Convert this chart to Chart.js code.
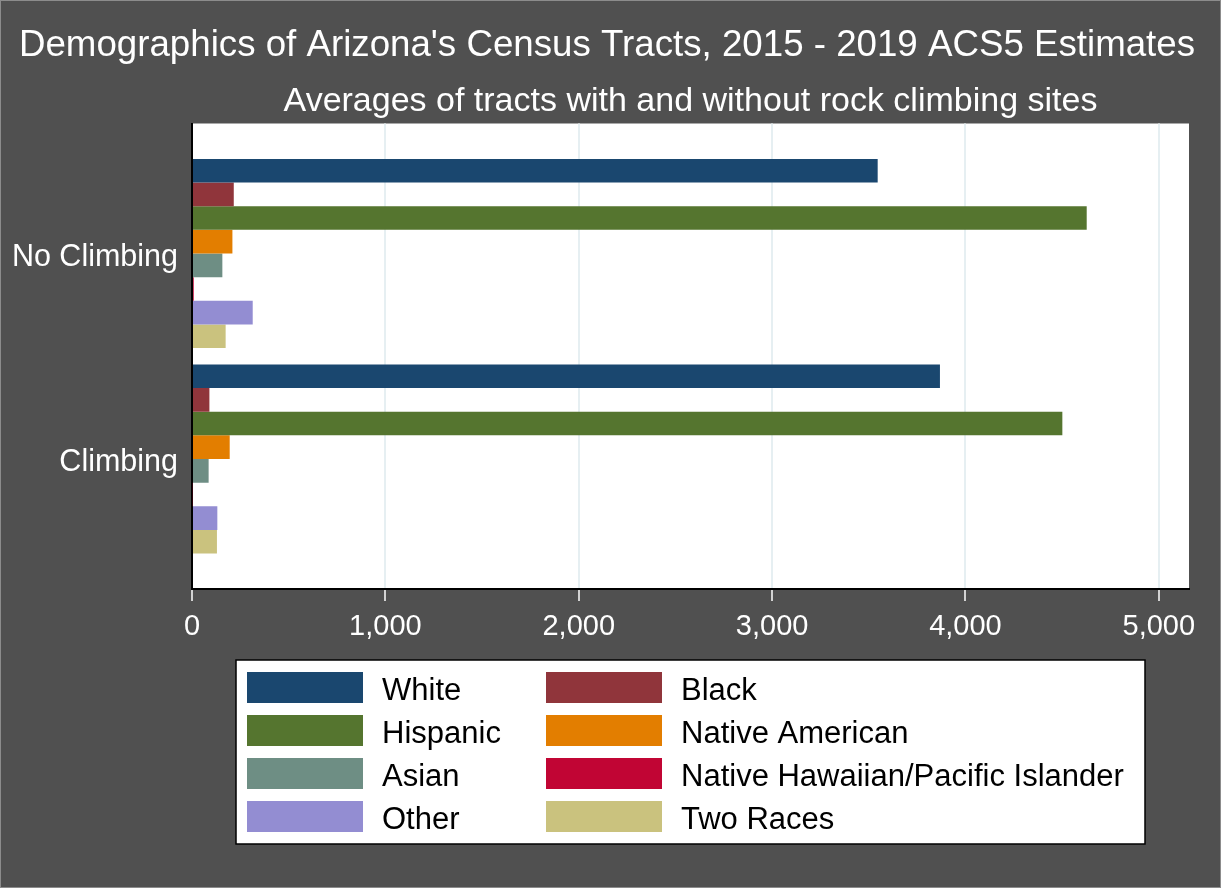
<!DOCTYPE html>
<html><head><meta charset="utf-8">
<script src="https://cdn.jsdelivr.net/npm/chart.js@4.4.1/dist/chart.umd.min.js"></script>
<style>html,body{margin:0;padding:0;background:#505050;overflow:hidden}canvas{display:block}</style>
</head><body>
<canvas id="c" width="1221" height="888"></canvas>
<script>
// ---- data ----
const groups = ['No Climbing', 'Climbing'];
const seriesNames = ['White', 'Black', 'Hispanic', 'Native American', 'Asian', 'Native Hawaiian/Pacific Islander', 'Other', 'Two Races'];
const white = [3546, 3868];
const black = [216, 90];
const hispanic = [4627, 4501];
const nativeAmerican = [209, 195];
const asian = [157, 86];
const nhpi = [9, 4];
const other = [314, 131];
const twoRaces = [174, 129];
const xTicks = [0, 1000, 2000, 3000, 4000, 5000];
const xMax = 5156;
const titleText = "Demographics of Arizona's Census Tracts, 2015 - 2019 ACS5 Estimates";
const subtitleText = "Averages of tracts with and without rock climbing sites";

// ---- styles ----
const colors = ['#1a476f', '#90353b', '#55752f', '#e37e00', '#6e8e84', '#c10534', '#938dd2', '#cac27e'];
const FAM = '"Liberation Sans", Arial, sans-serif';
const seriesValues = [white, black, hispanic, nativeAmerican, asian, nhpi, other, twoRaces];

const datasets = seriesNames.map((name, i) => ({
  label: name,
  data: seriesValues[i].map((v, j) => ({ x: v, y: j })),
  backgroundColor: colors[i],
  borderWidth: 0,
  categoryPercentage: 0.92,
  barPercentage: 1.0
}));

const deco = {
  id: 'deco',
  beforeDraw(chart) {
    const { ctx, chartArea: a, width: W, height: H } = chart;
    ctx.save();
    ctx.fillStyle = '#505050';
    ctx.fillRect(0, 0, W, H);
    ctx.strokeStyle = '#8c8c8c';
    ctx.lineWidth = 1;
    ctx.strokeRect(0.5, 0.5, W - 1, H - 1);
    ctx.fillStyle = '#ffffff';
    ctx.fillRect(a.left, a.top, a.right - a.left, a.bottom - a.top);
    ctx.fillStyle = '#ffffff';
    ctx.textAlign = 'center';
    ctx.textBaseline = 'alphabetic';
    ctx.font = '36.7px ' + FAM;
    ctx.fillText(titleText, 607, 56);
    ctx.font = '34px ' + FAM;
    ctx.fillText(subtitleText, (a.left + a.right) / 2, 111);
    ctx.restore();
  },
  afterDraw(chart) {
    const { ctx, chartArea: a } = chart;
    const cx = (a.left + a.right) / 2;
    const bw = 909, bt = 660, bh = 184;
    const bl = cx - bw / 2;
    ctx.save();
    ctx.fillStyle = '#ffffff';
    ctx.fillRect(bl, bt, bw, bh);
    ctx.strokeStyle = '#000000';
    ctx.lineWidth = 1.5;
    ctx.strokeRect(bl, bt, bw, bh);
    ctx.font = '31px ' + FAM;
    ctx.textAlign = 'left';
    ctx.textBaseline = 'alphabetic';
    chart.data.datasets.forEach((ds, i) => {
      const col = i % 2, row = Math.floor(i / 2);
      const sx = bl + (col === 0 ? 11 : 310);
      const tx = bl + (col === 0 ? 146 : 445);
      const sy = 672 + row * 43;
      ctx.fillStyle = ds.backgroundColor;
      ctx.fillRect(sx, sy, 116, 31);
      ctx.fillStyle = '#000000';
      ctx.fillText(ds.label, tx, sy + 27.5);
    });
    ctx.restore();
  }
};

new Chart(document.getElementById('c'), {
  type: 'bar',
  data: { datasets },
  options: {
    responsive: false,
    animation: false,
    indexAxis: 'y',
    devicePixelRatio: 1,
    layout: { padding: { top: 123.5, left: 0, right: 32, bottom: 239 } },
    plugins: { legend: { display: false }, title: { display: false }, tooltip: { enabled: false } },
    scales: {
      x: {
        type: 'linear', position: 'bottom', min: 0, max: xMax,
        afterBuildTicks: s => { s.ticks = xTicks.map(v => ({ value: v })); },
        afterFit: s => { s.height = 60; },
        grid: {
          color: c => (c.tick && c.tick.value === 0) ? 'rgba(0,0,0,0)' : '#e6eff2',
          lineWidth: 2, drawTicks: true, tickLength: 12, tickColor: '#ffffff', tickWidth: 1.5
        },
        border: { display: true, color: '#000000', width: 2 },
        ticks: {
          color: '#ffffff', font: { size: 29, family: FAM }, padding: 9,
          maxRotation: 0, autoSkip: false,
          callback: v => Number(v).toLocaleString('en-US')
        }
      },
      y: {
        type: 'linear', reverse: true, offset: false, min: -0.6326, max: 1.6326,
        afterBuildTicks: s => { s.ticks = groups.map((g, i) => ({ value: i })); },
        afterFit: s => { s.width = 192; },
        grid: { display: false, drawTicks: false },
        border: { display: true, color: '#000000', width: 2 },
        ticks: {
          color: '#ffffff', font: { size: 30.5, family: FAM }, padding: 14,
          autoSkip: false, labelOffset: 4,
          callback: v => groups[v]
        }
      }
    }
  },
  plugins: [deco]
});
</script>
</body></html>
